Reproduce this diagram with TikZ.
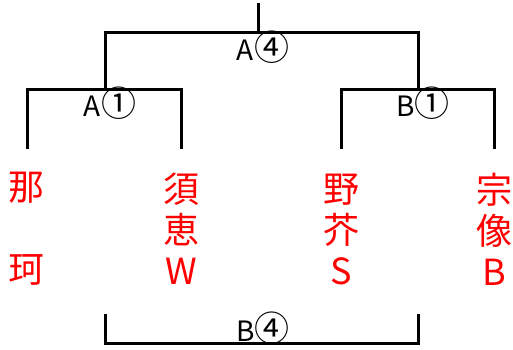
\documentclass[tikz,border=0pt]{standalone}
\usepackage{fontspec}
\setmainfont{Noto Sans CJK JP}
\usetikzlibrary{positioning}

\newcommand{\rnd}[1]{{\fontsize{35}{30}\selectfont #1}}

\tikzset{
  bracket/.style={line width=3pt, line cap=rect},
  score/.style={font=\fontsize{28}{30}\selectfont, inner sep=0pt},
  player/.style={text=red, font=\fontsize{36}{41}\selectfont, align=center, inner sep=0pt}
}

\begin{document}
\begin{tikzpicture}[x=1pt,y=-1pt]
\useasboundingbox (0,0) rectangle (513,350);

% the draw
\coordinate (top)   at (258,5);
\coordinate (final) at (258,33);
\coordinate (semiL) at (105,90);
\coordinate (semiR) at (418,90);
\coordinate (nak)   at (27,147);
\coordinate (sue)   at (181,147);
\coordinate (nos)   at (341,147);
\coordinate (mun)   at (494,147);

\draw[bracket] (top) -- (final);
\draw[bracket] (semiL) -- (semiL |- final) -- (semiR |- final) -- (semiR);
\draw[bracket] (nak) |- (semiL) -| (sue);
\draw[bracket] (nos) |- (semiR) -| (mun);

\node[score] (fin)  at (263,47)  {A\rnd{④}};
\node[score] (semA) at (110,103) {A\rnd{①}};
\node[score] (semB) at (423,103) {B\rnd{①}};

% players
\node[player] (naka)  at (27,229)  {那\\\mbox{}\\珂};
\node[player] (suew)  at (181,229) {須\\恵\\W};
\node[player] (nosu)  at (341,229) {野\\芥\\S};
\node[player] (munab) at (494,229) {宗\\像\\B};

% the other final
\coordinate (endL) at (105,315);
\coordinate (endR) at (418,315);
\draw[bracket] (endL) -- (105,343) -- (418,343) -- (endR);
\node[score] (finB) at (263,328) {B\rnd{④}};
\end{tikzpicture}
\end{document}
